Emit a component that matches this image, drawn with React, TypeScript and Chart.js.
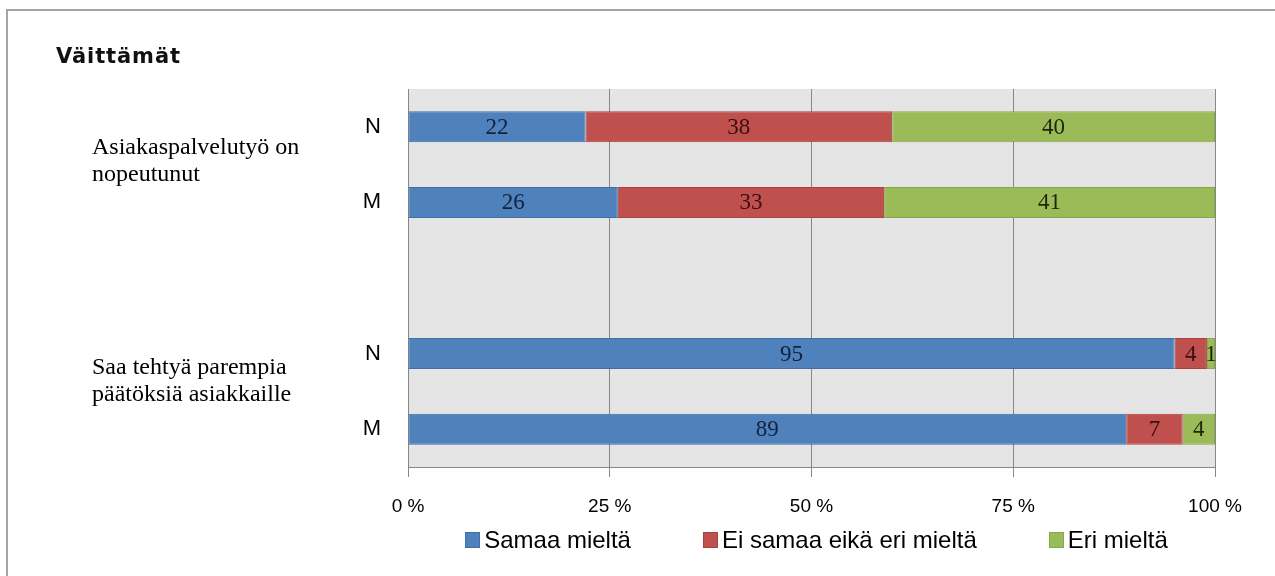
import React, { useEffect, useRef } from "react";
import { Chart, registerables } from "chart.js";

Chart.register(...registerables);

// Survey answers (%) per respondent group, two statements
const rowLabels = ["N", "M", "", "N", "M"];
const samaaMielta = [22, 26, null, 95, 89];
const eiSamaaEikaEri = [38, 33, null, 4, 7];
const eriMielta = [40, 41, null, 1, 4];
const seriesNames = ["Samaa mieltä", "Ei samaa eikä eri mieltä", "Eri mieltä"];
const xTickValues = [0, 25, 50, 75, 100];
const statementLines = [
  ["Asiakaspalvelutyö on", "nopeutunut"],
  ["Saa tehtyä parempia", "päätöksiä asiakkaille"],
];
const chartTitle = "Väittämät";

const fills = ["#4f81bd", "#c0504d", "#9bbb59"];
const edges = ["#3f6fa8", "#a9413e", "#87a64a"];
const labelInk = ["#14213d", "#3a0f0f", "#1c2608"];

const plotBackground = {
  id: "plotBackground",
  beforeDraw(chart: any) {
    const { ctx, chartArea: a } = chart;
    ctx.save();
    ctx.fillStyle = "#e5e5e5";
    ctx.fillRect(a.left, a.top, a.right - a.left, a.bottom - a.top);
    ctx.restore();
  },
};

const segmentLabels = {
  id: "segmentLabels",
  afterDatasetsDraw(chart: any) {
    const ctx = chart.ctx;
    ctx.save();
    ctx.font = "23px 'Liberation Serif', serif";
    ctx.textAlign = "center";
    ctx.textBaseline = "middle";
    chart.data.datasets.forEach((ds: any, di: number) => {
      const meta = chart.getDatasetMeta(di);
      ctx.fillStyle = labelInk[di];
      meta.data.forEach((el: any, i: number) => {
        const v = ds.data[i];
        if (v == null) return;
        const { x, base, y } = el.getProps(["x", "base", "y"], true);
        ctx.fillText(String(v), (x + base) / 2, y + 1);
      });
    });
    ctx.restore();
  },
};

export default function App() {
  const canvasRef = useRef<HTMLCanvasElement | null>(null);

  useEffect(() => {
    if (!canvasRef.current) return;
    const series = [samaaMielta, eiSamaaEikaEri, eriMielta];
    const chart = new Chart(canvasRef.current, {
      type: "bar",
      data: {
        labels: rowLabels,
        datasets: series.map((data, i) => ({
          label: seriesNames[i],
          data,
          backgroundColor: fills[i],
          borderColor: edges[i],
          borderWidth: 1,
          borderSkipped: false,
          barPercentage: 0.41,
          categoryPercentage: 1,
        })),
      },
      options: {
        indexAxis: "y",
        responsive: false,
        animation: false,
        layout: { padding: { left: 0, right: 60, top: 89, bottom: 49 } },
        plugins: {
          legend: { display: false },
          tooltip: { enabled: false },
        },
        scales: {
          x: {
            stacked: true,
            min: 0,
            max: 100,
            afterBuildTicks: (s: any) => {
              s.ticks = xTickValues.map((v) => ({ value: v }));
            },
            afterFit: (s: any) => {
              s.height = 60;
            },
            ticks: {
              callback: (v: any) => `${v} %`,
              font: { family: "'Liberation Sans', Arial, sans-serif", size: 19 },
              color: "#000",
              padding: 18,
              maxRotation: 0,
            },
            grid: { color: "#878787", lineWidth: 1, tickLength: 10, drawTicks: true },
            border: { display: true, color: "#878787", width: 1 },
          },
          y: {
            stacked: true,
            afterFit: (s: any) => {
              s.width = 408;
            },
            ticks: {
              font: { family: "'Liberation Sans', Arial, sans-serif", size: 22 },
              color: "#000",
              padding: 27,
            },
            grid: { display: false, drawTicks: false },
            border: { display: true, color: "#878787", width: 1 },
          },
        },
      },
      plugins: [plotBackground, segmentLabels],
    } as any);
    return () => chart.destroy();
  }, []);

  return (
    <div
      style={{
        position: "absolute",
        left: 0,
        top: 0,
        width: 1275,
        height: 576,
        overflow: "hidden",
        background: "#fff",
      }}
    >
      <canvas ref={canvasRef} width={1275} height={576} style={{ display: "block" }} />
      <div
        style={{
          position: "absolute",
          left: 6,
          top: 9,
          width: 1300,
          height: 600,
          borderTop: "2px solid #a5a5a5",
          borderLeft: "2px solid #a5a5a5",
          pointerEvents: "none",
        }}
      />
      <div
        style={{
          position: "absolute",
          left: 56,
          top: 46,
          font: "bold 21px/21px 'DejaVu Sans', sans-serif",
          letterSpacing: "0.9px",
          color: "#111",
          whiteSpace: "nowrap",
        }}
      >
        {chartTitle}
      </div>
      {statementLines.map((lines, i) => (
        <div
          key={i}
          style={{
            position: "absolute",
            left: 92,
            top: i === 0 ? 133.4 : 353.4,
            font: "24px/27px 'Liberation Serif', 'Times New Roman', serif",
            color: "#000",
            whiteSpace: "nowrap",
          }}
        >
          {lines.map((t, j) => (
            <div key={j}>{t}</div>
          ))}
        </div>
      ))}
      <div
        style={{
          position: "absolute",
          left: 413,
          width: 807,
          top: 527,
          display: "flex",
          justifyContent: "center",
          gap: 72,
          font: "24px/26px 'Liberation Sans', Arial, sans-serif",
          color: "#000",
          whiteSpace: "nowrap",
        }}
      >
        {seriesNames.map((name, i) => (
          <div key={name} style={{ display: "flex", alignItems: "center", gap: 4 }}>
            <span
              style={{
                display: "inline-block",
                width: 13,
                height: 14,
                background: fills[i],
                border: `1px solid ${edges[i]}`,
              }}
            />
            <span>{name}</span>
          </div>
        ))}
      </div>
    </div>
  );
}
